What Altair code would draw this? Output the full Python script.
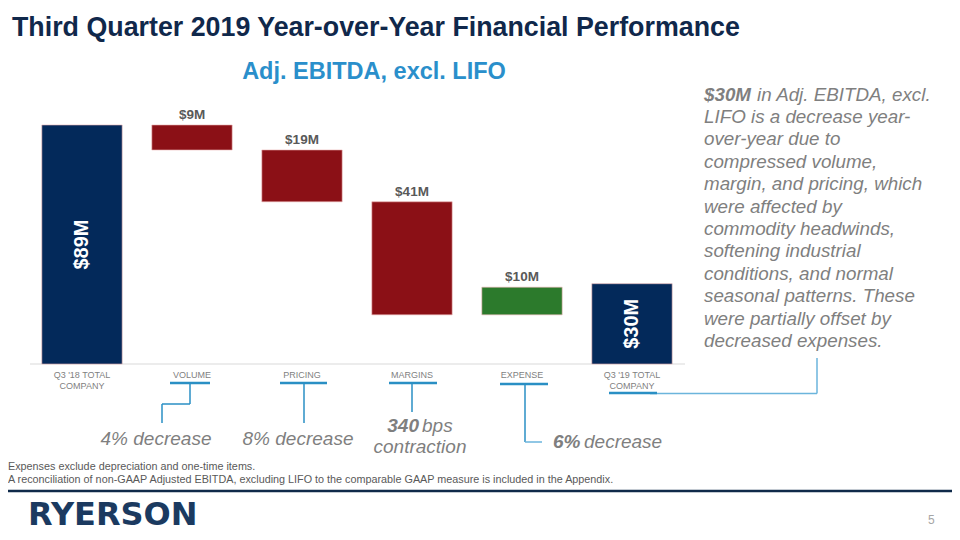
import altair as alt
import pandas as pd

# ---------------- data ----------------
categories = ["Q3 '18 TOTAL\nCOMPANY", "VOLUME", "PRICING", "MARGINS", "EXPENSE", "Q3 '19 TOTAL\nCOMPANY"]
bar_start = [0, 89, 79.7, 60.4, 18.3, 0]
bar_end = [89, 79.7, 60.4, 18.3, 28.6, 29.9]
bar_labels = ["$89M", "$9M", "$19M", "$41M", "$10M", "$30M"]
bar_kind = ["total", "decrease", "decrease", "decrease", "increase", "total"]

right_lines = [
    "LIFO is a decrease year-",
    "over-year due to",
    "compressed volume,",
    "margin, and pricing, which",
    "were affected by",
    "commodity headwinds,",
    "softening industrial",
    "conditions, and normal",
    "seasonal patterns. These",
    "were partially offset by",
    "decreased expenses.",
]

NAVY = "#03295a"
RED = "#8b1016"
GREEN = "#2c7a2c"
BLUE = "#2a8fc4"
GRAY = "#7f7f7f"
SANS = "Liberation Sans, Arial, sans-serif"

df = pd.DataFrame({
    "cat": categories,
    "start": bar_start,
    "end": bar_end,
    "label": bar_labels,
    "kind": bar_kind,
})
df["top"] = df[["start", "end"]].max(axis=1)
df["mid"] = (df["start"] + df["end"]) / 2

O = 8  # page margin offset

xs = alt.Scale(domain=categories, range=[19, 679], paddingInner=0.27, paddingOuter=0.135)
ys = alt.Scale(domain=[0, 89], range=[356, 117], nice=False, zero=False)
X = alt.X("cat:N", sort=categories, scale=xs, axis=None)

base = alt.Chart(df)

bars = base.mark_bar(stroke="#e8b0b0", strokeWidth=0.6).encode(
    x=X,
    y=alt.Y("start:Q", scale=ys, axis=None),
    y2="end:Q",
    color=alt.Color("kind:N", scale=alt.Scale(domain=["total", "decrease", "increase"],
                                                range=[NAVY, RED, GREEN]), legend=None),
)

change_labels = base.transform_filter(alt.datum.kind != "total").mark_text(
    font=SANS, fontSize=13.5, fontWeight="bold", color="#595959", baseline="bottom", dy=-3
).encode(x=X, y=alt.Y("top:Q", scale=ys), text="label:N")

total_labels = base.transform_filter(alt.datum.kind == "total").mark_text(
    font=SANS, fontSize=20, fontWeight="bold", color="white", angle=270, baseline="middle", align="center"
).encode(x=X, y=alt.Y("mid:Q", scale=ys), text="label:N")

cat_labels = base.mark_text(
    font=SANS, fontSize=9, color=GRAY, baseline="top", lineBreak="\n", lineHeight=11
).encode(x=X, y=alt.value(371 - O), text="cat:N")

one = pd.DataFrame({"a": [0]})


def seg(x1, y1, x2, y2, w=1.5, color=BLUE):
    return alt.Chart(one).mark_rule(strokeWidth=w, color=color).encode(
        x=alt.value(x1 - O), y=alt.value(y1 - O), x2=alt.value(x2 - O), y2=alt.value(y2 - O)
    )


def txt(s, x, y, size, color=GRAY, weight="normal", style="normal", align="left",
        font=SANS, baseline="middle"):
    return alt.Chart(one).mark_text(
        text=s, fontSize=size, color=color, fontWeight=weight, fontStyle=style,
        align=align, font=font, baseline=baseline
    ).encode(x=alt.value(x - O), y=alt.value(y - O))


layers = [
    seg(30, 364, 685, 364, 1, "#d9d9d9"),
    bars, change_labels, total_labels, cat_labels,
    # connectors
    seg(170, 383, 210, 383, 2.5), seg(190, 383, 190, 404), seg(162, 404, 190, 404), seg(162, 404, 162, 423),
    seg(280, 383, 327, 383, 2.5), seg(304, 383, 304, 423),
    seg(389, 383, 437, 383, 2.5), seg(412, 383, 412, 412),
    seg(500, 384, 548, 384, 2.5), seg(525, 384, 525, 442), seg(525, 442, 542, 442, 1.5, "#6bb5dc"),
    seg(650, 393.5, 817, 393.5, 1.5, "#6bb5dc"), seg(817, 358, 817, 393.5, 1.5, "#6bb5dc"),
    seg(609, 393, 657, 393, 2.5),
    # titles
    txt("Third Quarter 2019 Year-over-Year Financial Performance", 12, 28, 26.8, "#10284b", "bold"),
    txt("Adj. EBITDA, excl. LIFO", 374, 72, 23.5, "#2a8fcb", "bold", align="center"),
    # right block
    txt("$30M", 704, 95, 18.8, GRAY, "bold", "italic"),
    txt("in Adj. EBITDA, excl.", 757, 95, 18.8, GRAY, style="italic"),
]
for i, line in enumerate(right_lines):
    layers.append(txt(line, 704, 116.9 + i * 22.4, 18.8, GRAY, style="italic"))

layers += [
    txt("4% decrease", 156, 439, 19, GRAY, style="italic", align="center"),
    txt("8% decrease", 298, 439, 19, GRAY, style="italic", align="center"),
    txt("340", 419, 426, 19, GRAY, "bold", "italic", align="right"),
    txt("bps", 422, 426, 19, GRAY, style="italic"),
    txt("contraction", 420, 447, 19, GRAY, style="italic", align="center"),
    txt("6%", 553, 442, 19, GRAY, "bold", "italic"),
    txt("decrease", 584, 442, 19, GRAY, style="italic"),
    # footnotes
    txt("Expenses exclude depreciation and one-time items.", 8, 467, 10.8, "#595959"),
    txt("A reconciliation of non-GAAP Adjusted EBITDA,  excluding LIFO  to the comparable GAAP measure is included in the Appendix.",
        8, 480, 10.8, "#595959"),
    seg(8, 491, 952, 491, 2.5, "#0f2a4a"),
    txt("RYERSON", 28, 515, 32, "#1b3a60", "bold", font="DejaVu Sans"),
    txt("5", 928, 520, 12, "#a6a6a6"),
]

chart = alt.layer(*layers).properties(
    width=944, height=524, padding=0, autosize="none", background="white"
).configure_view(stroke=None)

chart.save("out.html", embed_options={"renderer": "svg", "actions": False})
